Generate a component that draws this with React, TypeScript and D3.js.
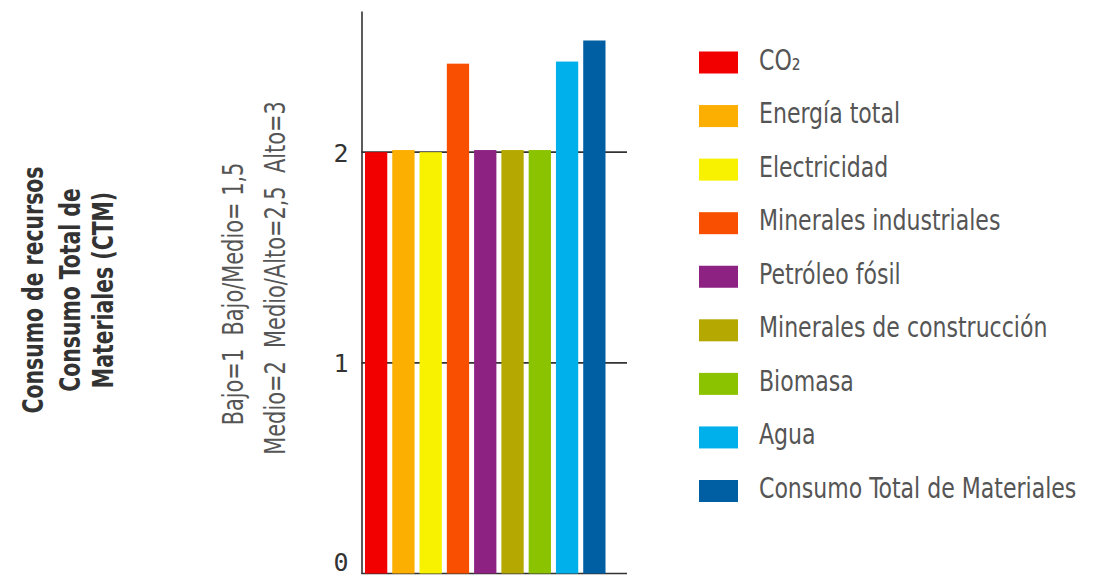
import React, { useEffect, useRef } from 'react';
import * as d3 from 'd3';

const categories = [
  'CO₂',
  'Energía total',
  'Electricidad',
  'Minerales industriales',
  'Petróleo fósil',
  'Minerales de construcción',
  'Biomasa',
  'Agua',
  'Consumo Total de Materiales',
];
const values = [2.0, 2.01, 2.0, 2.42, 2.01, 2.01, 2.01, 2.43, 2.53];
const colors = [
  '#f20000', '#fcaf00', '#f8f100', '#f85000', '#8e2283',
  '#b5a800', '#8cc300', '#00b0ea', '#005fa3',
];
const yTicks = [0, 1, 2];
const titleLines = ['Consumo de recursos', 'Consumo Total de', 'Materiales (CTM)'];
const scaleLines = ['Bajo=1  Bajo/Medio= 1,5', 'Medio=2  Medio/Alto=2,5  Alto=3'];

const SANS = '"DejaVu Sans Condensed", "DejaVu Sans", sans-serif';

const App: React.FC = () => {
  const svgRef = useRef<SVGSVGElement>(null);

  useEffect(() => {
    if (!svgRef.current) return;
    const svg = d3.select(svgRef.current);
    svg.selectAll('*').remove();

    const axisX = 361.5;
    const plotRight = 627;

    const x = d3.scaleBand<string>()
      .domain(categories)
      .range([axisX, 609])
      .paddingInner(0.183)
      .paddingOuter(0.128);

    const y = d3.scaleLinear().domain([0, 2.67]).range([573.5, 11]);

    // gridlines behind the bars
    svg.append('g')
      .selectAll('line')
      .data(yTicks)
      .enter()
      .append('line')
      .attr('x1', axisX)
      .attr('x2', plotRight)
      .attr('y1', d => y(d))
      .attr('y2', d => y(d))
      .attr('stroke', '#333')
      .attr('stroke-width', 1.6);

    // bars
    svg.append('g')
      .selectAll('rect')
      .data(values)
      .enter()
      .append('rect')
      .attr('x', (_, i) => x(categories[i])!)
      .attr('width', x.bandwidth())
      .attr('y', d => y(d))
      .attr('height', d => y(0) - y(d))
      .attr('fill', (_, i) => colors[i]);

    // y axis
    const yAxis = svg.append('g')
      .attr('transform', `translate(${axisX},0)`)
      .call(d3.axisLeft(y).tickValues(yTicks).tickSize(0).tickPadding(13).tickFormat(d3.format('d')));
    yAxis.select('.domain').attr('stroke', '#333').attr('stroke-width', 1.6);
    yAxis.selectAll('text')
      .attr('font-family', '"DejaVu Sans Mono", monospace')
      .attr('font-size', 25)
      .attr('fill', '#333')
      // bottom label sits above the baseline so it is not clipped
      .attr('dy', (d: any) => (d === 0 ? '-0.12em' : '0.36em'));

    // rotated titles on the left
    const titleBase = [43, 80, 113];
    svg.append('g')
      .attr('font-family', SANS)
      .attr('font-weight', 'bold')
      .attr('font-size', 28)
      .attr('fill', '#333')
      .attr('text-anchor', 'middle')
      .selectAll('text')
      .data(titleLines)
      .enter()
      .append('text')
      .attr('transform', (_, i) => `translate(${titleBase[i]},290) rotate(-90) scale(0.81,1)`)
      .text(d => d);

    const scaleBase = [243, 285];
    const scaleMid = [294, 278];
    svg.append('g')
      .attr('font-family', SANS)
      .attr('font-size', 28)
      .attr('fill', '#555')
      .attr('text-anchor', 'middle')
      .selectAll('text')
      .data(scaleLines)
      .enter()
      .append('text')
      .attr('xml:space', 'preserve')
      .style('white-space', 'pre')
      .attr('transform', (_, i) => `translate(${scaleBase[i]},${scaleMid[i]}) rotate(-90) scale(0.83,1)`)
      .text(d => d);

    // legend
    const legendY = d3.scalePoint<string>().domain(categories).range([62.5, 491]);
    const legend = svg.append('g');
    legend.selectAll('rect')
      .data(categories)
      .enter()
      .append('rect')
      .attr('x', 699)
      .attr('y', d => legendY(d)! - 11)
      .attr('width', 39)
      .attr('height', 22)
      .attr('fill', (_, i) => colors[i]);
    legend.selectAll('text')
      .data(categories)
      .enter()
      .append('text')
      .attr('transform', d => `translate(759,${legendY(d)! + 7}) scale(0.875,1)`)
      .attr('font-family', SANS)
      .attr('font-size', 28)
      .attr('fill', '#555')
      .text(d => d);
  }, []);

  return (
    <svg
      ref={svgRef}
      width={1095}
      height={577}
      style={{ position: 'absolute', left: 0, top: 0, background: '#fff' }}
    />
  );
};

export default App;
